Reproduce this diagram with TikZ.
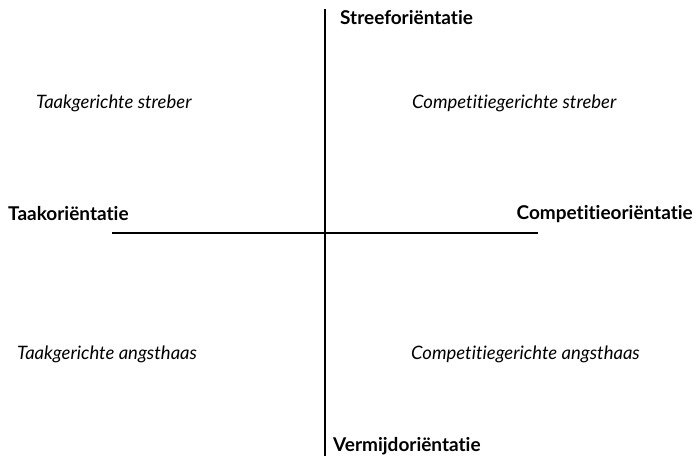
\documentclass[tikz,border=0pt]{standalone}
\usepackage{fontspec}
\setmainfont[Ligatures=NoCommon]{Lato}
\usetikzlibrary{positioning}
\tikzset{
  axis/.style = {draw=black, line width=1.4pt},
  pole/.style = {inner sep=0pt, font=\bfseries\fontsize{19}{22}\selectfont},% naam van de as
  type/.style = {inner sep=0pt, font=\itshape\fontsize{18.5}{22}\selectfont}% type leerling
}
\begin{document}
\begin{tikzpicture}[x=1pt,y=-1pt]
        \useasboundingbox (0,0) rectangle (696,461);
        \coordinate (T) at (325,9);
        \coordinate (B) at (325,456);
        \coordinate (L) at (112,233);
        \coordinate (R) at (538,233);

        \draw [axis] (T) -- (B);
        \draw [axis] (L) -- (R);

        \node [pole, anchor=west](N) at (340,18){Streeforiëntatie};
        \node [pole, anchor=west](S) at (333,446){Vermijdoriëntatie};
        \node [pole, anchor=west](W) at (8,214){Taakoriëntatie};
        \node [pole, anchor=east](E) at (693,214){Competitieoriëntatie};

        \node [type, anchor=west](NW) at (36,103){Taakgerichte streber};
        \node [type, anchor=west](NE) at (412,103){Competitiegerichte streber};
        \node [type, anchor=west](SW) at (17,354){Taakgerichte angsthaas};
        \node [type, anchor=west](SE) at (411,354){Competitiegerichte angsthaas};

        \end{tikzpicture}
\end{document}
